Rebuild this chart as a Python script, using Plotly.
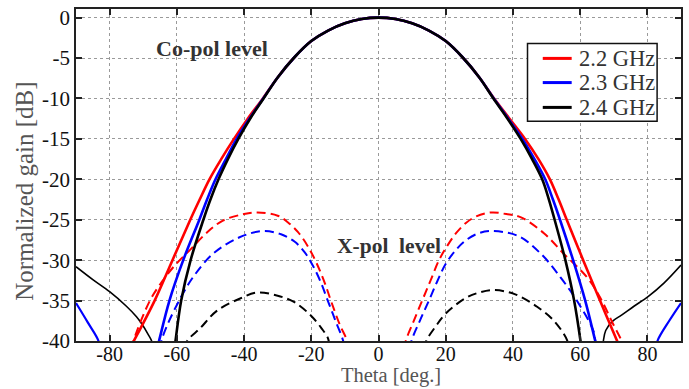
import plotly.graph_objects as go

# ---- Co-polar main beam (theta in deg, normalized gain in dB) ----
co_theta_22 = [-74.1, -72.8, -66.6, -61.3, -56.0, -53.2, -50.3, -46.8, -43.0, -38.9, -34.4, -30, -25, -20, -15, -10, -5, 0,
               5, 10, 15, 20, 25, 30, 34.4, 39.0, 43.6, 47.6, 51.0, 53.6, 56.0, 60.9, 65.9, 71.0, 72.1]
co_gain_22 = [-41, -40, -35, -30, -25, -22.5, -20, -17.5, -15, -12.5, -10, -7.4, -4.9, -2.9, -1.6, -0.7, -0.17, 0,
              -0.17, -0.7, -1.6, -2.9, -4.9, -7.4, -10, -12.5, -15, -17.5, -20, -22.5, -25, -30, -35, -40, -41]

co_theta_23 = [-65.9, -65.3, -62.2, -58.1, -53.3, -51.0, -48.5, -45.4, -42.2, -38.4, -34.3, -30, -25, -20, -15, -10, -5, 0,
               5, 10, 15, 20, 25, 30, 34.3, 38.6, 42.8, 46.4, 49.6, 51.9, 54.0, 57.9, 61.5, 64.5, 65.1]
co_gain_23 = [-41, -40, -35, -30, -25, -22.5, -20, -17.5, -15, -12.5, -10, -7.4, -4.9, -2.9, -1.6, -0.7, -0.17, 0,
              -0.17, -0.7, -1.6, -2.9, -4.9, -7.4, -10, -12.5, -15, -17.5, -20, -22.5, -25, -30, -35, -40, -41]

co_theta_24 = [-60.7, -60.4, -58.7, -55.9, -52.1, -50.0, -47.6, -44.8, -41.7, -38.2, -34.2, -30, -25, -20, -15, -10, -5, 0,
               5, 10, 15, 20, 25, 30, 34.2, 38.4, 42.3, 45.7, 48.7, 50.7, 52.4, 55.6, 58.2, 60.1, 60.4]
co_gain_24 = [-41, -40, -35, -30, -25, -22.5, -20, -17.5, -15, -12.5, -10, -7.4, -4.9, -2.9, -1.6, -0.7, -0.17, 0,
              -0.17, -0.7, -1.6, -2.9, -4.9, -7.4, -10, -12.5, -15, -17.5, -20, -22.5, -25, -30, -35, -40, -41]

# ---- Co-polar far side lobes ----
lobe_l_theta_23 = [-90, -86.5, -83.3, -83]
lobe_l_gain_23 = [-35.3, -37.7, -40, -41]
lobe_r_theta_23 = [82.7, 83, 86.5, 90]
lobe_r_gain_23 = [-41, -40, -37.5, -35.3]

lobe_l_theta_24 = [-90, -85, -80, -75, -72, -70.4, -68.5, -67.5, -67.2]
lobe_l_gain_24 = [-30.8, -32.4, -33.9, -35.7, -37.0, -37.9, -39.2, -40, -41]
lobe_r_theta_24 = [66.7, 66.9, 67.6, 69.5, 72.3, 76, 80.2, 85, 90]
lobe_r_gain_24 = [-41, -40, -38.7, -37.6, -36.8, -35.7, -34.5, -32.8, -30.6]

# ---- Cross-polar level ----
x_l_theta_22 = [-73.4, -72.9, -68.0, -64.3, -60.5, -56.0, -51.1, -46.3, -40, -36, -30, -27, -24, -21,
                -18.5, -16, -14, -11.5, -9.3, -8.9]
x_l_gain_22 = [-41, -40, -35, -32.6, -30.6, -28.7, -26.6, -25.1, -24.3, -24.1, -24.5, -25.3, -26.5, -28.3,
               -30.3, -32.8, -35.2, -38, -40, -41]
x_r_theta_22 = [7.7, 8.1, 10.5, 13, 15.5, 18, 20.5, 23, 26, 29, 33.5, 38, 42.4, 49.3, 55.1, 62, 65.9, 69.8, 72.3, 72.8]
x_r_gain_22 = [-41, -40, -37.5, -35, -32.5, -30, -28.2, -26.7, -25.4, -24.6, -24.1, -24.3, -24.7, -26.7, -29.2,
               -32.1, -34.6, -37.9, -40, -41]

x_l_theta_23 = [-65.0, -64.6, -62.7, -58.8, -55.0, -49.2, -41.5, -34.5, -29, -25, -22, -19.5, -17.2, -15.1,
                -12.8, -10.5, -10.2]
x_l_gain_23 = [-41, -40, -37.9, -34.6, -32, -29.2, -27.2, -26.4, -26.8, -27.7, -29, -30.7, -32.7, -35,
               -37.5, -40, -41]
x_r_theta_23 = [9.5, 9.8, 12.3, 15, 17.4, 19.8, 22.5, 25.5, 29, 33, 41.5, 48.3, 54.1, 59, 63.9, 64.5, 64.8]
x_r_gain_23 = [-41, -40, -37.5, -35, -32.7, -30.6, -29, -27.7, -26.8, -26.4, -27, -29.2, -32.1, -35, -38.7,
               -40, -41]

x_l_theta_24 = [-57.3, -56.9, -53.0, -48.2, -41.5, -36, -30, -25, -20, -17, -15, -14.6]
x_l_gain_24 = [-41, -40, -38.4, -36.3, -34.8, -34.0, -34.4, -35.2, -36.9, -38.4, -39.7, -41]
x_r_theta_24 = [13.8, 14.2, 17, 20, 25.9, 30, 34.3, 40.5, 47.3, 52.2, 56.1, 56.4]
x_r_gain_24 = [-41, -40, -38.2, -36.6, -34.7, -34.0, -33.7, -34.2, -35.8, -37.5, -39.9, -41]

labels = ["2.2 GHz", "2.3 GHz", "2.4 GHz"]
colors = ["#ff0000", "#0000ff", "#000000"]

x_ticks = [-80, -60, -40, -20, 0, 20, 40, 60, 80]
y_ticks = [0, -5, -10, -15, -20, -25, -30, -35, -40]

SERIF = "Liberation Serif"

fig = go.Figure()

def add(x, y, color, width, dash="solid"):
    fig.add_trace(go.Scatter(
        x=x, y=y, mode="lines", showlegend=False,
        line=dict(color=color, width=width, dash=dash, shape="spline", smoothing=1.0),
        hoverinfo="skip"))

# far lobes first so main beams sit on top
add(lobe_l_theta_23, lobe_l_gain_23, colors[1], 2.2)
add(lobe_r_theta_23, lobe_r_gain_23, colors[1], 2.2)
add(lobe_l_theta_24, lobe_l_gain_24, colors[2], 1.6)
add(lobe_r_theta_24, lobe_r_gain_24, colors[2], 1.6)

xpol = [(x_l_theta_22, x_l_gain_22, x_r_theta_22, x_r_gain_22),
        (x_l_theta_23, x_l_gain_23, x_r_theta_23, x_r_gain_23),
        (x_l_theta_24, x_l_gain_24, x_r_theta_24, x_r_gain_24)]
for (lt, lg, rt, rg), c in zip(xpol, colors):
    add(lt, lg, c, 2.0, dash="9px,5px")
    add(rt, rg, c, 2.0, dash="9px,5px")

copol = [(co_theta_22, co_gain_22), (co_theta_23, co_gain_23), (co_theta_24, co_gain_24)]
for (t, g), c in zip(copol, colors):
    add(t, g, c, 2.6)

# boxed key in the upper right corner (paper coordinates)
key_x0, key_x1, key_y0, key_y1 = 0.7463, 0.9605, 0.6617, 0.8961
key_rows = [0.8512, 0.7784, 0.7036]
shapes = [dict(type="rect", xref="paper", yref="paper", x0=key_x0, x1=key_x1, y0=key_y0, y1=key_y1,
               line=dict(color="#111111", width=1.5), fillcolor="white", layer="above")]
key_text = []
for lab, c, ry in zip(labels, colors, key_rows):
    shapes.append(dict(type="line", xref="paper", yref="paper", x0=0.7715, x1=0.8193, y0=ry, y1=ry,
                       line=dict(color=c, width=3), layer="above"))
    key_text.append(dict(x=0.8285, y=ry, xref="paper", yref="paper", text=lab, showarrow=False,
                         xanchor="left", yanchor="middle",
                         font=dict(family=SERIF, size=22.5, color="#333333")))

axis_common = dict(
    showline=True, linecolor="#222222", linewidth=1.5, mirror="ticks",
    ticks="inside", ticklen=6, tickwidth=1.5, tickcolor="#222222",
    showgrid=True, gridcolor="#9a9a9a", gridwidth=1, griddash="dot",
    zeroline=False,
)

fig.update_layout(
    width=689, height=389,
    margin=dict(l=76, r=6, t=7, b=48),
    paper_bgcolor="white", plot_bgcolor="white",
    font=dict(family=SERIF, size=21, color="#111111"),
    showlegend=False,
    xaxis=dict(range=[-90, 90], tickvals=x_ticks, ticktext=[str(v) for v in x_ticks],
               tickfont=dict(family=SERIF, size=20, color="#111111"), ticklabelstandoff=-6,
               **axis_common),
    yaxis=dict(range=[-40, 1.07], tickvals=y_ticks, ticktext=[str(v) for v in y_ticks],
               tickfont=dict(family=SERIF, size=21, color="#111111"),
               **axis_common),
    shapes=shapes,
    annotations=[
        # axis titles
        dict(x=0.52, y=-0.1425, xref="paper", yref="paper", text="Theta [deg.]", showarrow=False,
             xanchor="center", yanchor="bottom", borderpad=0,
             font=dict(family=SERIF, size=20.5, color="#555555")),
        dict(x=-0.0857, y=0.45, xref="paper", yref="paper", text="Normalized gain [dB]", showarrow=False,
             textangle=-90, xanchor="center", yanchor="middle",
             font=dict(family=SERIF, size=25, color="#555555")),
        # in-plot labels
        dict(x=-49.6, y=-3.85, xref="x", yref="y", text="<b>Co-pol level</b>", showarrow=False,
             font=dict(family=SERIF, size=22, color="#333333")),
        dict(x=3.0, y=-28.2, xref="x", yref="y", text="<b>X-pol  level</b>", showarrow=False,
             font=dict(family=SERIF, size=21.5, color="#333333")),
    ] + key_text,
)

fig.write_html("out.html")
